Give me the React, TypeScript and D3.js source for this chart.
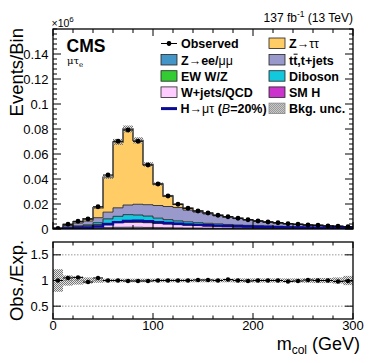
import React from 'react';
import * as d3 from 'd3';

const binLow = [0,10,20,30,40,50,60,70,80,90,100,110,120,130,140,150,160,170,180,190,200,210,220,230,240,250,260,270,280,290];
const binWidth = 10;

// values in units of 10^6 events
const observed = [0.0005,0.0038,0.0062,0.008,0.0178,0.0432,0.0702,0.0792,0.0702,0.0512,0.036,0.0264,0.0198,0.0166,0.0144,0.0128,0.011,0.0098,0.0086,0.0074,0.0064,0.0056,0.005,0.0042,0.0038,0.0032,0.003,0.0024,0.0022,0.0018];
const smH = [0,0,0,0,0.00005,0.0001,0.00015,0.0002,0.0002,0.00015,0.0001,0.0001,0.00008,0.00006,0.00005,0.00004,0.00003,0.00003,0.00002,0.00002,0.00002,0.00001,0.00001,0.00001,0.00001,0.00001,0.00001,0.00001,0.00001,0.00001];
const zll = [0.0001,0.0003,0.0005,0.0006,0.0008,0.001,0.0012,0.0012,0.0012,0.0011,0.001,0.0009,0.0008,0.0007,0.0007,0.0006,0.0006,0.0005,0.0005,0.0005,0.0004,0.0004,0.0004,0.0003,0.0003,0.0003,0.0003,0.0002,0.0002,0.0002];
const wjets = [0.0002,0.0009,0.0014,0.0017,0.0024,0.0032,0.0037,0.004,0.004,0.0038,0.0034,0.003,0.0026,0.0023,0.002,0.0018,0.0016,0.0014,0.0012,0.0011,0.001,0.0009,0.0008,0.0007,0.0006,0.0005,0.0004,0.0004,0.0003,0.0003];
const ewk = [0,0.0001,0.0001,0.0001,0.0002,0.0003,0.0003,0.0003,0.0003,0.0003,0.0002,0.0002,0.0002,0.0002,0.0001,0.0001,0.0001,0.0001,0.0001,0.0001,0.0001,0.0001,0.0001,0.0001,0.0001,0.0001,0.0001,0.0001,0.0001,0.0001];
const diboson = [0.0001,0.0002,0.0005,0.0009,0.0016,0.0035,0.0048,0.0058,0.0055,0.005,0.004,0.0033,0.0028,0.0025,0.0022,0.002,0.0018,0.0016,0.0014,0.0012,0.0011,0.001,0.0009,0.0008,0.0007,0.0006,0.0005,0.0005,0.0004,0.0004];
const ttbar = [0.0002,0.0013,0.0023,0.0031,0.004,0.0054,0.0068,0.0077,0.0086,0.0091,0.0101,0.0105,0.0107,0.0094,0.0085,0.0075,0.0064,0.0058,0.0051,0.0043,0.0037,0.0031,0.0026,0.0022,0.0019,0.0016,0.0015,0.0012,0.0011,0.0008];
const ztt = [0,0.0008,0.001,0.0018,0.008,0.028,0.0527,0.0608,0.0511,0.0322,0.0172,0.0084,0.0026,0.0014,0.0008,0.0007,0.0005,0.0002,0.0003,0.0003,0.0001,0.0001,0.0002,0.0002,0.0002,0.0001,0.0002,0,0.0001,0];
const signal = [0,0.0003,0.0006,0.001,0.002,0.0038,0.0055,0.0064,0.0066,0.0062,0.0055,0.0048,0.0042,0.0037,0.0033,0.003,0.0027,0.0024,0.0022,0.002,0.0018,0.0016,0.0015,0.0013,0.0012,0.0011,0.001,0.0009,0.0008,0.0007];
const ratio = [1.0,1.05,1.06,0.97,1.05,1.0,1.0,0.99,0.99,0.99,1.0,1.0,1.0,1.0,1.01,1.01,1.0,1.02,1.0,0.99,1.0,1.0,1.0,0.98,0.99,1.01,1.0,1.0,0.98,0.99];
const relUnc = [0.22,0.1,0.08,0.06,0.045,0.035,0.035,0.035,0.035,0.035,0.035,0.035,0.035,0.035,0.035,0.035,0.035,0.035,0.04,0.04,0.04,0.04,0.04,0.04,0.04,0.045,0.05,0.05,0.06,0.09];

const stackKeys = ['smH','zll','wjets','ewk','diboson','ttbar','ztt'];
const stackColors: Record<string,string> = {
  smH: '#cc33cc', zll: '#4496c8', wjets: '#ffccff', ewk: '#33cc33',
  diboson: '#12c8dc', ttbar: '#9999cc', ztt: '#ffcc66',
};
const yTicksMain = [0,0.02,0.04,0.06,0.08,0.1,0.12,0.14];
const yTicksRatio = [0.5,1,1.5];
const xTicks = [0,100,200,300];

const FONT = "'Liberation Sans', Arial, Helvetica, sans-serif";

export default function App() {
  const W = 374, H = 363;
  const x = d3.scaleLinear().domain([0,300]).range([53,353]);
  const y = d3.scaleLinear().domain([0,0.16]).range([229,29]);
  const yr = d3.scaleLinear().domain([0.25,1.75]).range([319,242]);

  const table = binLow.map((lo,i) => ({
    lo, smH: smH[i], zll: zll[i], wjets: wjets[i], ewk: ewk[i],
    diboson: diboson[i], ttbar: ttbar[i], ztt: ztt[i],
  }));
  const series = d3.stack<any>().keys(stackKeys)(table);
  const total = table.map((_,i) => series[series.length-1][i][1]);

  const areaGen = d3.area<any>().x(d=>x(d.x)).y0(d=>y(d.y0)).y1(d=>y(d.y1));
  const lineGen = d3.line<any>().x(d=>x(d.x)).y(d=>y(d.y));

  const stepPts = (vals0: number[], vals1: number[]) => {
    const pts: any[] = [];
    binLow.forEach((lo,i) => {
      pts.push({x: lo, y0: vals0[i], y1: vals1[i]});
      pts.push({x: lo+binWidth, y0: vals0[i], y1: vals1[i]});
    });
    return pts;
  };
  const stepLine = (vals: number[]) => {
    const pts: any[] = [];
    binLow.forEach((lo,i) => {
      pts.push({x: lo, y: vals[i]});
      pts.push({x: lo+binWidth, y: vals[i]});
    });
    return pts;
  };

  const yMinor = d3.range(0, 0.1601, 0.004);
  const xMinor = d3.range(0, 301, 20);

  const legendRows = [43.5, 60, 76.2, 92.4, 108.6];
  const c1box = 161, c1text = 181, c2box = 269, c2text = 289;
  const box = (xx: number, yy: number, fill: string) => (
    <rect x={xx} y={yy-5.5} width={16} height={10.5} fill={fill} stroke="#222" strokeWidth={0.8} />
  );
  const lt = (xx: number, yy: number, children: any) => (
    <text x={xx} y={yy+4.5} fontSize={12.5} fontWeight="bold" fontFamily={FONT}>{children}</text>
  );

  return (
    <svg width={W} height={H} style={{position:'absolute', left:0, top:0}} fontFamily={FONT}>
      <defs>
        <pattern id="dots" width="2" height="2" patternUnits="userSpaceOnUse">
          <rect x="0" y="0" width="2" height="2" fill="#bbbbbb" fillOpacity="0.35" />
          <rect x="0" y="0" width="1" height="1" fill="#777777" />
          <rect x="1" y="1" width="1" height="1" fill="#777777" />
        </pattern>
        <pattern id="dotsLeg" width="2" height="2" patternUnits="userSpaceOnUse">
          <rect x="0" y="0" width="2" height="2" fill="#c8c8c8" />
          <rect x="0" y="0" width="1" height="1" fill="#999999" />
          <rect x="1" y="1" width="1" height="1" fill="#999999" />
        </pattern>
        <clipPath id="mainClip"><rect x={53} y={29} width={300} height={200} /></clipPath>
        <clipPath id="ratioClip"><rect x={53} y={242} width={300} height={77} /></clipPath>
      </defs>
      <rect x={0} y={0} width={W} height={H} fill="#fff" />

      {/* main panel */}
      <g clipPath="url(#mainClip)">
        {series.map((s,k) => (
          <path key={s.key} d={areaGen(stepPts(s.map(d=>d[0]), s.map(d=>d[1])))!}
            fill={stackColors[s.key]} stroke="none" />
        ))}
        {series.map((s,k) => (
          <path key={'o'+s.key} d={lineGen(stepLine(s.map(d=>d[1])))!}
            fill="none" stroke="#2a2a2a" strokeWidth={k === series.length-1 ? 1.4 : 0.9} />
        ))}
        <path d={lineGen(stepLine(signal))!} fill="none" stroke="#0b0b96" strokeWidth={2.4} />
        {binLow.map((lo,i) => (
          <rect key={'u'+i} x={x(lo)} width={x(lo+binWidth)-x(lo)}
            y={y(total[i]*(1+relUnc[i]))} height={y(total[i]*(1-relUnc[i]))-y(total[i]*(1+relUnc[i]))}
            fill="url(#dots)" />
        ))}
        {binLow.map((lo,i) => (
          <g key={'p'+i}>
            <line x1={x(lo)} x2={x(lo+binWidth)} y1={y(observed[i])} y2={y(observed[i])} stroke="#000" strokeWidth={1} />
            <circle cx={x(lo+binWidth/2)} cy={y(observed[i])} r={2.4} fill="#000" />
          </g>
        ))}
      </g>
      <rect x={53} y={29} width={300} height={200} fill="none" stroke="#000" strokeWidth={1.3} />
      {yMinor.map((v,i) => {
        const major = yTicksMain.some(t => Math.abs(t-v) < 1e-6);
        const len = major ? 8 : 4;
        return (
          <g key={'ym'+i}>
            <line x1={53} x2={53+len} y1={y(v)} y2={y(v)} stroke="#000" strokeWidth={1} />
            <line x1={353} x2={353-len} y1={y(v)} y2={y(v)} stroke="#000" strokeWidth={1} />
          </g>
        );
      })}
      {xMinor.map((v,i) => {
        const major = xTicks.includes(v);
        const len = major ? 7 : 4;
        return (
          <g key={'xm'+i}>
            <line x1={x(v)} x2={x(v)} y1={29} y2={29+len} stroke="#000" strokeWidth={1} />
            <line x1={x(v)} x2={x(v)} y1={229} y2={229-len} stroke="#000" strokeWidth={1} />
          </g>
        );
      })}
      {yTicksMain.map(v => (
        <text key={'yl'+v} x={48.5} y={y(v)+4.5} fontSize={13} textAnchor="end">{String(+v.toFixed(2))}</text>
      ))}
      <text x={51.5} y={27} fontSize={10.5}>×10<tspan fontSize={8} dy={-5}>6</tspan></text>
      <text transform="translate(22.5,28) rotate(-90)" fontSize={18.5} textAnchor="end">Events/Bin</text>
      <text x={353} y={22} fontSize={12} textAnchor="end">137 fb<tspan fontSize={8.5} dy={-5}>-1</tspan><tspan dy={5}> (13 TeV)</tspan></text>

      <text x={66.5} y={52} fontSize={17.5} fontWeight="bold">CMS</text>
      <text x={67} y={64} fontSize={10} fontFamily="'DejaVu Serif', serif">μτ<tspan fontSize={7} dy={3}>e</tspan></text>

      {/* legend */}
      <g>
        <line x1={c1box} x2={c1box+16} y1={legendRows[0]} y2={legendRows[0]} stroke="#000" strokeWidth={1} />
        <line x1={c1box+8} x2={c1box+8} y1={legendRows[0]-2.5} y2={legendRows[0]+2.5} stroke="#000" strokeWidth={1} />
        <circle cx={c1box+8} cy={legendRows[0]} r={2.4} fill="#000" />
        {lt(c1text, legendRows[0], 'Observed')}
        {box(c1box, legendRows[1], stackColors.zll)}
        {lt(c1text, legendRows[1], <>Z→ee/<tspan fontWeight="normal">μμ</tspan></>)}
        {box(c1box, legendRows[2], stackColors.ewk)}
        {lt(c1text, legendRows[2], 'EW W/Z')}
        {box(c1box, legendRows[3], stackColors.wjets)}
        {lt(c1text, legendRows[3], 'W+jets/QCD')}
        <line x1={c1box} x2={c1box+16} y1={legendRows[4]} y2={legendRows[4]} stroke="#0b0b96" strokeWidth={3} />
        {lt(c1text - 0.5, legendRows[4], <>H→<tspan fontWeight="normal">μτ</tspan> (<tspan fontStyle="italic" fontWeight="normal">B</tspan>=20%)</>)}

        {box(c2box, legendRows[0], stackColors.ztt)}
        {lt(c2text, legendRows[0], <>Z→<tspan fontWeight="normal">ττ</tspan></>)}
        {box(c2box, legendRows[1], stackColors.ttbar)}
        {lt(c2text, legendRows[1], 'tt,t+jets')}
        <line x1={c2text+4.6} x2={c2text+8.6} y1={legendRows[1]-5.8} y2={legendRows[1]-5.8} stroke="#000" strokeWidth={1} />
        {box(c2box, legendRows[2], stackColors.diboson)}
        {lt(c2text, legendRows[2], 'Diboson')}
        {box(c2box, legendRows[3], stackColors.smH)}
        {lt(c2text, legendRows[3], 'SM H')}
        <rect x={c2box} y={legendRows[4]-5.5} width={16} height={10.5} fill="url(#dotsLeg)" stroke="#888" strokeWidth={0.8} />
        {lt(c2text, legendRows[4], 'Bkg. unc.')}
      </g>

      {/* ratio panel */}
      <g clipPath="url(#ratioClip)">
        {yTicksRatio.map(v => (
          <line key={'g'+v} x1={53} x2={353} y1={yr(v)} y2={yr(v)} stroke="#999" strokeWidth={1} strokeDasharray="1.5,1.5" />
        ))}
        {binLow.map((lo,i) => (
          <rect key={'ru'+i} x={x(lo)} width={x(lo+binWidth)-x(lo)}
            y={yr(1+relUnc[i])} height={yr(1-relUnc[i])-yr(1+relUnc[i])} fill="url(#dots)" />
        ))}
        {binLow.map((lo,i) => (
          <g key={'rp'+i}>
            <line x1={x(lo)} x2={x(lo+binWidth)} y1={yr(ratio[i])} y2={yr(ratio[i])} stroke="#000" strokeWidth={1} />
            <circle cx={x(lo+binWidth/2)} cy={yr(ratio[i])} r={2.2} fill="#000" />
          </g>
        ))}
      </g>
      <rect x={53} y={242} width={300} height={77} fill="none" stroke="#000" strokeWidth={1.3} />
      {yTicksRatio.map(v => (
        <g key={'rt'+v}>
          <line x1={53} x2={61} y1={yr(v)} y2={yr(v)} stroke="#000" strokeWidth={1} />
          <line x1={353} x2={345} y1={yr(v)} y2={yr(v)} stroke="#000" strokeWidth={1} />
          <text x={48.5} y={yr(v)+4.5} fontSize={13} textAnchor="end">{String(v)}</text>
        </g>
      ))}
      {xMinor.map((v,i) => {
        const major = xTicks.includes(v);
        const len = major ? 6 : 3.5;
        return (
          <g key={'rxm'+i}>
            <line x1={x(v)} x2={x(v)} y1={242} y2={242+len} stroke="#000" strokeWidth={1} />
            <line x1={x(v)} x2={x(v)} y1={319} y2={319-len} stroke="#000" strokeWidth={1} />
          </g>
        );
      })}
      {xTicks.map(v => (
        <text key={'xl'+v} x={x(v)} y={330} fontSize={13} textAnchor="middle">{v}</text>
      ))}
      <text transform="translate(22.5,280.5) rotate(-90)" fontSize={18.5} textAnchor="middle">Obs./Exp.</text>
      <text x={360} y={350} fontSize={18} textAnchor="end">m<tspan fontSize={12} dy={4}>col</tspan><tspan dy={-4}> (GeV)</tspan></text>
    </svg>
  );
}
